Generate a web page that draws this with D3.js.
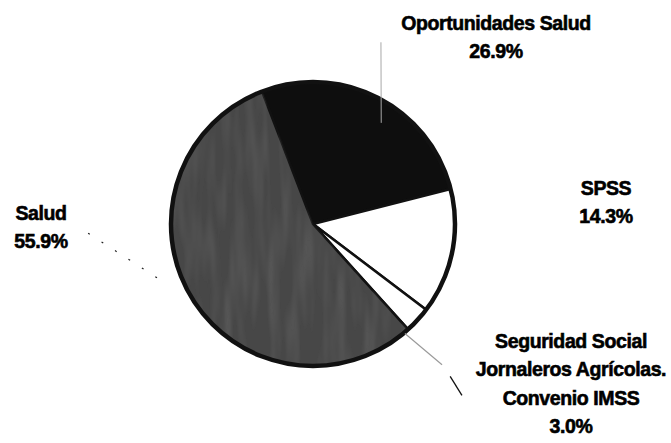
<!DOCTYPE html>
<html>
<head>
<meta charset="utf-8">
<script src="https://cdn.jsdelivr.net/npm/d3@7"></script>
<style>
  body { margin: 0; background: #fff; }
  text { font-family: "Liberation Sans", Arial, sans-serif; font-weight: bold; fill: #000; }
</style>
</head>
<body>
<div id="chart"></div>
<script>
// data
const categories = ["Oportunidades Salud", "SPSS",
  "Seguridad Social|Jornaleros Agrícolas.|Convenio IMSS", "Salud"];
const values = [26.9, 14.3, 3.0, 55.9];
const valueLabels = ["26.9%", "14.3%", "3.0%", "55.9%"];

const WIDTH = 671, HEIGHT = 443;
const CX = 313, CY = 224, R = 142;
const fills = ["#0e0e0e", "#ffffff", "#ffffff", "#474747"];

// label anchors (centre x, first baseline) and leader lines (polar from centre)
const labelPos = [[496, 30], [606, 195], [571, 348], [41, 220]];
const leaders = [
  { a0: 34, r0: 122, a1: 20.5, r1: 194, dash: null, col: "#a8a8a8", w: 1 },
  { a0: 140, r0: 143, a1: 137.5, r1: 191, dash: null, col: "#9a9a9a", w: 1.2 },
  { a0: 138, r0: 205, a1: 139, r1: 227, dash: null, col: "#111", w: 1.3 },
  { a0: 251, r0: 165, a1: 268, r1: 227, dash: "2,14", col: "#222", w: 1.2 }
];

const svg = d3.select("#chart").append("svg")
  .attr("width", WIDTH).attr("height", HEIGHT);

// light vertical streaks, like the scanned grey slice
const defs = svg.append("defs");
const f = defs.append("filter").attr("id", "grain");
f.append("feTurbulence").attr("type", "fractalNoise")
  .attr("baseFrequency", "0.09 0.012").attr("numOctaves", 2).attr("seed", 3).attr("result", "n");
f.append("feColorMatrix").attr("in", "n").attr("type", "matrix")
  .attr("values", "0 0 0 0 0.15  0 0 0 0 0.15  0 0 0 0 0.15  0 0 0 -0.9 0.55")
  .attr("result", "g");
f.append("feComposite").attr("in", "g").attr("in2", "SourceGraphic").attr("operator", "in");

const pie = d3.pie().sort(null)
  .startAngle(-21 * Math.PI / 180)
  .endAngle(-21 * Math.PI / 180 + 2 * Math.PI);
const arc = d3.arc().innerRadius(0).outerRadius(R);
const arcs = pie(values);

const g = svg.append("g").attr("transform", `translate(${CX},${CY})`);

g.selectAll("path.slice")
  .data(arcs)
  .enter()
  .append("path")
    .attr("class", "slice")
    .attr("d", arc)
    .attr("fill", (d, i) => fills[i])
    .attr("stroke", "#111")
    .attr("stroke-width", 2.5)
    .attr("stroke-linejoin", "round");

// streaks over the big grey slice
g.append("path")
  .attr("d", arc(arcs[3]))
  .attr("fill", "#000")
  .attr("filter", "url(#grain)");

// heavy rim
g.append("circle").attr("r", R)
  .attr("fill", "none").attr("stroke", "#111").attr("stroke-width", 4.5);

// leader lines
const polar = (a, r) => [CX + r * Math.sin(a * Math.PI / 180), CY - r * Math.cos(a * Math.PI / 180)];
svg.selectAll("line.leader")
  .data(leaders)
  .enter()
  .append("line")
    .attr("class", "leader")
    .attr("x1", d => polar(d.a0, d.r0)[0])
    .attr("y1", d => polar(d.a0, d.r0)[1])
    .attr("x2", d => polar(d.a1, d.r1)[0])
    .attr("y2", d => polar(d.a1, d.r1)[1])
    .attr("stroke", d => d.col)
    .attr("stroke-width", d => d.w)
    .attr("stroke-dasharray", d => d.dash);

// labels
const lbl = svg.selectAll("text.lbl")
  .data(categories)
  .enter()
  .append("text")
    .attr("class", "lbl")
    .attr("text-anchor", "middle")
    .attr("font-size", "19.5px")
    .attr("letter-spacing", "-0.4px")
    .attr("stroke", "#000")
    .attr("stroke-width", 0.6)
    .attr("x", (d, i) => labelPos[i][0])
    .attr("y", (d, i) => labelPos[i][1]);

lbl.each(function (d, i) {
  const lines = d.split("|").concat([valueLabels[i]]);
  d3.select(this).selectAll("tspan")
    .data(lines)
    .enter()
    .append("tspan")
      .attr("x", labelPos[i][0])
      .attr("dy", (t, k) => k === 0 ? 0 : 28.4)
      .text(t => t);
});
</script>
</body>
</html>
